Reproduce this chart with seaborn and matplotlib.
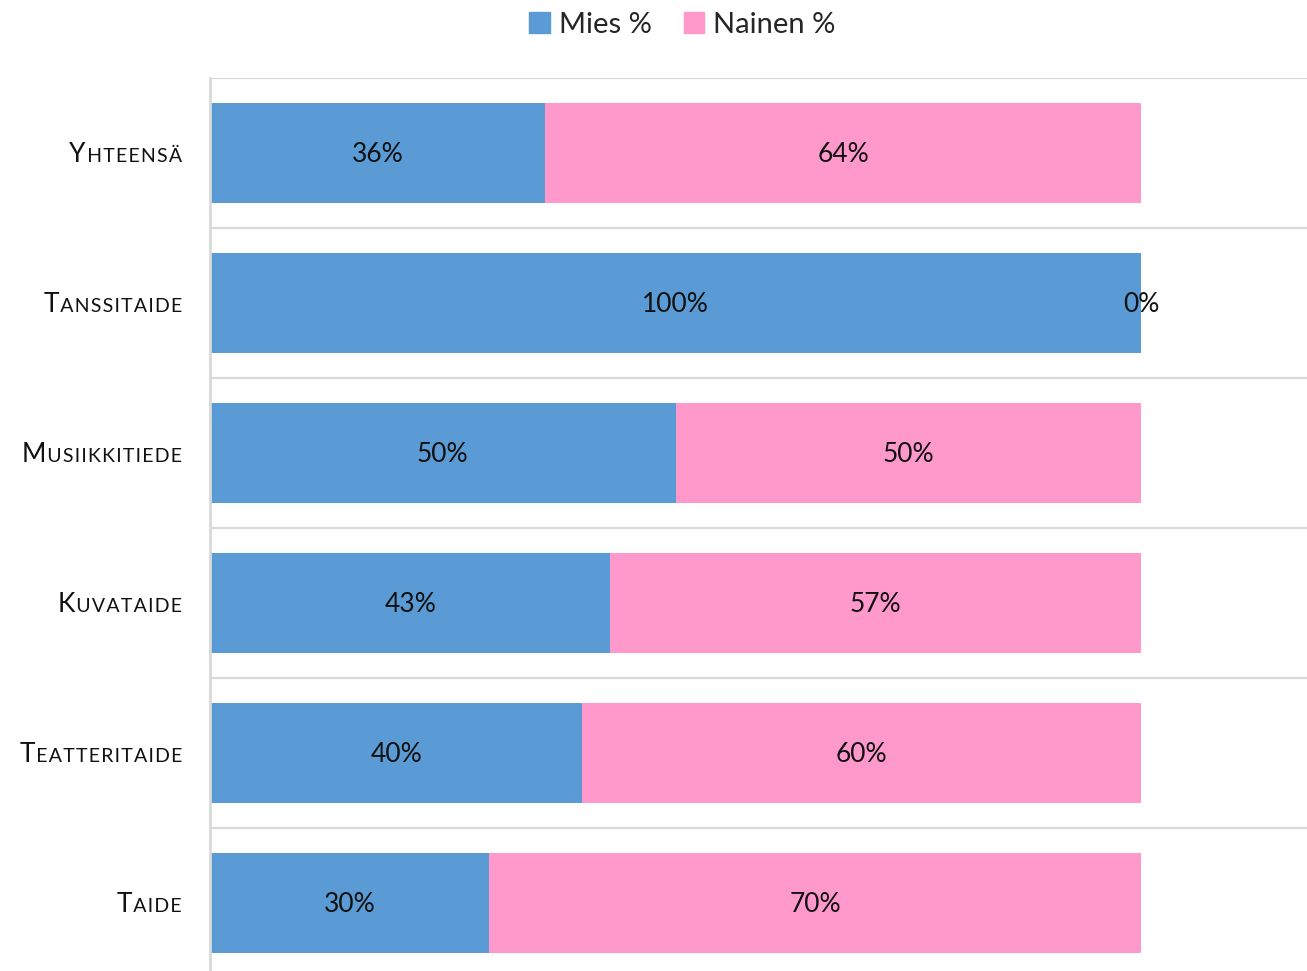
import matplotlib
matplotlib.use("Agg")
import matplotlib.pyplot as plt
import matplotlib.transforms as mtransforms
import seaborn as sns
import pandas as pd

# --- DATA ---
categories = ["Yhteensä", "Tanssitaide", "Musiikkitiede", "Kuvataide", "Teatteritaide", "Taide"]
mies = [0.36, 1.00, 0.50, 0.43, 0.40, 0.30]
nainen = [0.64, 0.00, 0.50, 0.57, 0.60, 0.70]
series_names = ["Mies %", "Nainen %"]

BLUE = "#5B9BD5"
PINK = "#FF99CC"
GRID = "#D9D9D9"

sns.set_theme(style="white")
plt.rcParams["font.family"] = ["Lato", "DejaVu Sans"]

df = pd.DataFrame({"kategoria": categories, "mies": mies, "nainen": nainen})
df["yhteensa"] = df["mies"] + df["nainen"]

fig = plt.figure(figsize=(13.07, 9.71), dpi=100)
ax = fig.add_axes([210 / 1307, -7 / 971, 1097 / 1307, 900 / 971])

# stacked bars: total (pink) underneath, men (blue) on top
sns.barplot(data=df, x="yhteensa", y="kategoria", order=categories, color=PINK,
            width=0.667, linewidth=0, saturation=1, ax=ax, orient="h")
sns.barplot(data=df, x="mies", y="kategoria", order=categories, color=BLUE,
            width=0.667, linewidth=0, saturation=1, ax=ax, orient="h")

ax.set_xlim(0, 1097 / 931)
ax.set_ylim(len(categories) - 0.5, -0.5)
ax.set_xticks([])
ax.set_yticks([])
ax.set_xlabel("")
ax.set_ylabel("")

# horizontal separators between categories
for b in range(len(categories)):
    ax.axhline(b - 0.5, color=GRID, lw=1.6, zorder=0)
for side in ["top", "right", "bottom"]:
    ax.spines[side].set_visible(False)
ax.spines["left"].set_color(GRID)
ax.spines["left"].set_linewidth(2)

# value labels
for i, row in df.iterrows():
    ax.text(row["mies"] / 2, i + 0.012, f"{row['mies']:.0%}", ha="center", va="center",
            fontsize=19, color="#111111")
    ax.text(row["mies"] + row["nainen"] / 2, i + 0.012, f"{row['nainen']:.0%}", ha="center",
            va="center", fontsize=19, color="#111111")

# small caps style category labels
hair = "\u200a"
trans = mtransforms.blended_transform_factory(ax.transAxes, ax.transData)
for i, cat in enumerate(categories):
    rest = hair + hair.join(cat[1:].upper())
    t = ax.text(-28 / 1097, i + 0.06, rest, transform=trans, ha="right", va="baseline",
                fontsize=14, color="#111111")
    ax.annotate(cat[0].upper(), xy=(0, i + 0.06), xycoords=(t, "data"), ha="right",
                va="baseline", fontsize=19, color="#111111", annotation_clip=False)

# legend
handles = [plt.Rectangle((0, 0), 1, 1, color=BLUE), plt.Rectangle((0, 0), 1, 1, color=PINK)]
fig.legend(handles, series_names, loc="upper center", bbox_to_anchor=(0.522, 1.015), ncol=2,
           frameon=False, fontsize=21, handlelength=0.7, handleheight=0.7,
           handletextpad=0.3, columnspacing=1.1)

fig.savefig("out.png", dpi=100)
